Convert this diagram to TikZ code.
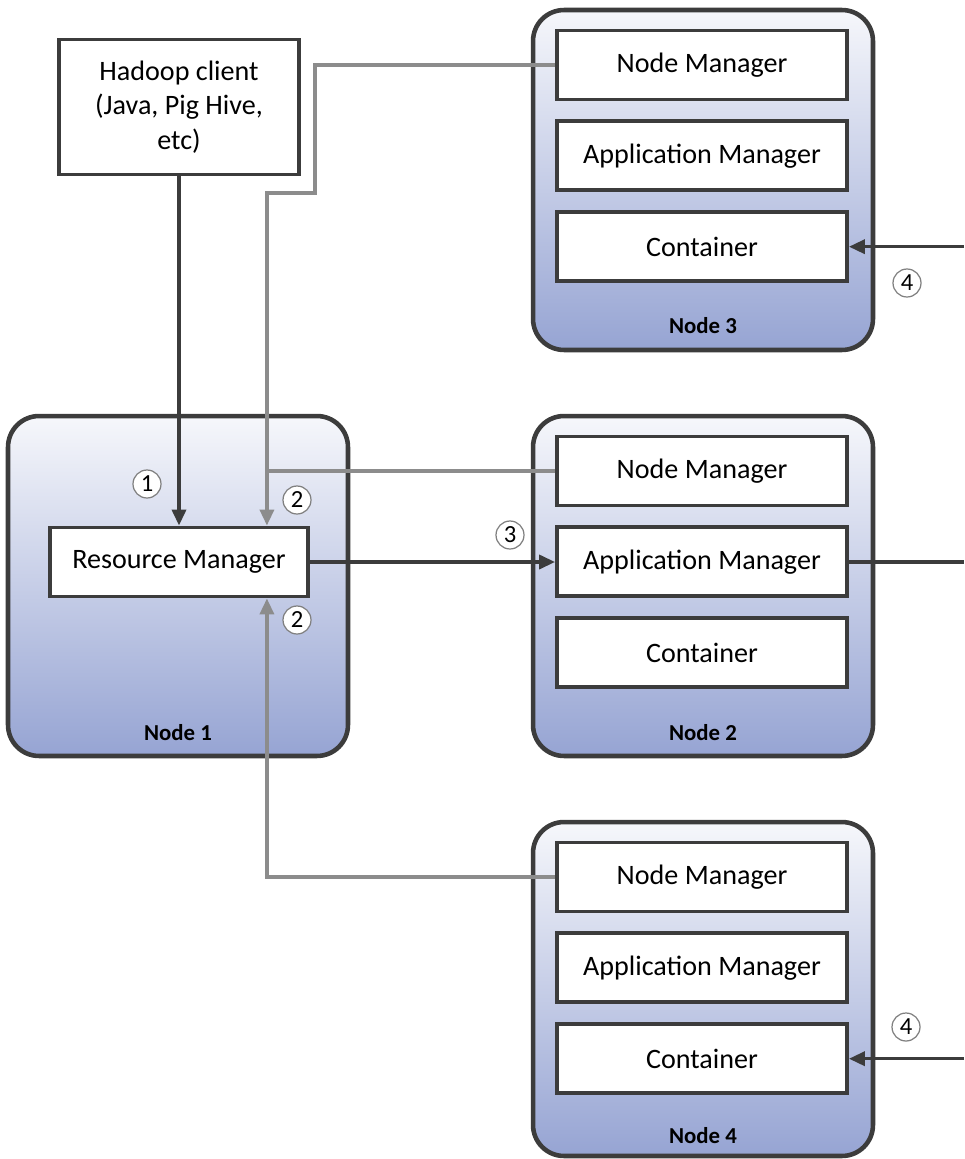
\documentclass[tikz,border=0pt]{standalone}
\usepackage{fontspec}
\setmainfont{Carlito}
\usetikzlibrary{positioning,arrows.meta}
\definecolor{edgedark}{RGB}{60,60,60}
\definecolor{reportgray}{RGB}{140,140,140}
\definecolor{shadetop}{RGB}{246,247,251}
\definecolor{shadebot}{RGB}{150,164,211}
\tikzset{
  machine/.style={draw=edgedark, line width=2.6pt, rounded corners=0.62cm,
    top color=shadetop, bottom color=shadebot,
    minimum width=6.8cm, minimum height=6.8cm},
  part/.style={draw=edgedark, line width=2.2pt, fill=white,
    minimum width=5.8cm, minimum height=1.38cm,
    font=\fontsize{16}{19.5}\selectfont},
  tag/.style={font=\fontsize{13}{15}\selectfont\bfseries},
  stepnum/.style={circle, draw=gray, line width=0.7pt, fill=white,
    inner sep=0pt, minimum size=0.56cm, font=\fontsize{14}{14}\selectfont},
  flow/.style={draw=edgedark, line width=2pt,
    -{Triangle[length=0.32cm,width=0.28cm]}},
  report/.style={draw=reportgray, line width=2pt,
    -{Triangle[length=0.32cm,width=0.28cm]}},
}
\begin{document}
\begin{tikzpicture}[x=0.02cm, y=-0.02cm]
  \useasboundingbox (0,0) rectangle (964,1159);
  % machines
  \node[machine] (n1) at (178,586) {};
  \node[machine] (n2) at (703,586) {};
  \node[machine] (n3) at (703,180) {};
  \node[machine, minimum height=6.68cm] (n4) at (703,989) {};
  \node[tag] (t1) at ([yshift=0.52cm]n1.south) {Node 1};
  \node[tag] (t2) at ([yshift=0.52cm]n2.south) {Node 2};
  \node[tag] (t3) at ([yshift=0.54cm]n3.south) {Node 3};
  \node[tag] (t4) at ([yshift=0.46cm]n4.south) {Node 4};
  % client and resource manager
  \node[part, minimum width=4.8cm, minimum height=2.7cm, align=center] (client)
    at (179,107) {Hadoop client\\(Java, Pig Hive,\\etc)};
  \node[part, minimum width=5.16cm] (rm) at (179,562) {Resource Manager};
  % node 3
  \node[part] (nm3) at (702,65) {Node Manager};
  \node[part, below=0.36cm of nm3] (am3) {Application Manager};
  \node[part, below=0.36cm of am3] (c3) {Container};
  % node 2
  \node[part] (nm2) at (702,471) {Node Manager};
  \node[part, below=0.36cm of nm2] (am2) {Application Manager};
  \node[part, below=0.36cm of am2] (c2) {Container};
  % node 4
  \node[part] (nm4) at (702,877) {Node Manager};
  \node[part, below=0.36cm of nm4] (am4) {Application Manager};
  \node[part, below=0.36cm of am4] (c4) {Container};
  % ends
  \coordinate (rmtop) at ([xshift=-0.86cm]rm.north east);
  \coordinate (rmbot) at ([xshift=-0.86cm]rm.south east);
  \coordinate (out2) at (am2.east -| 964,0);
  \coordinate (in3) at (c3.east -| 964,0);
  \coordinate (in4) at (c4.east -| 964,0);
  % connectors
  \draw[flow] (client) -- (rm);
  \draw[flow] (rm.east) -- (rm.east -| am2.west);
  \draw[flow, -] (am2) -- (out2);
  \draw[flow] (in3) -- (c3);
  \draw[flow] (in4) -- (c4);
  \draw[report] (nm3.west) -| (315,193) -| (rmtop);
  \draw[report, -] (nm2.west) -- (nm2.west -| rmtop);
  \draw[report] (nm4.west) -| (rmbot);
  % steps
  \node[stepnum] (s1) at (147,484) {1};
  \node[stepnum] (s2a) at (297,500) {2};
  \node[stepnum] (s2b) at (297,620) {2};
  \node[stepnum] (s3) at (510,535) {3};
  \node[stepnum] (s4a) at (907,283) {4};
  \node[stepnum] (s4b) at (906,1027) {4};
\end{tikzpicture}
\end{document}
